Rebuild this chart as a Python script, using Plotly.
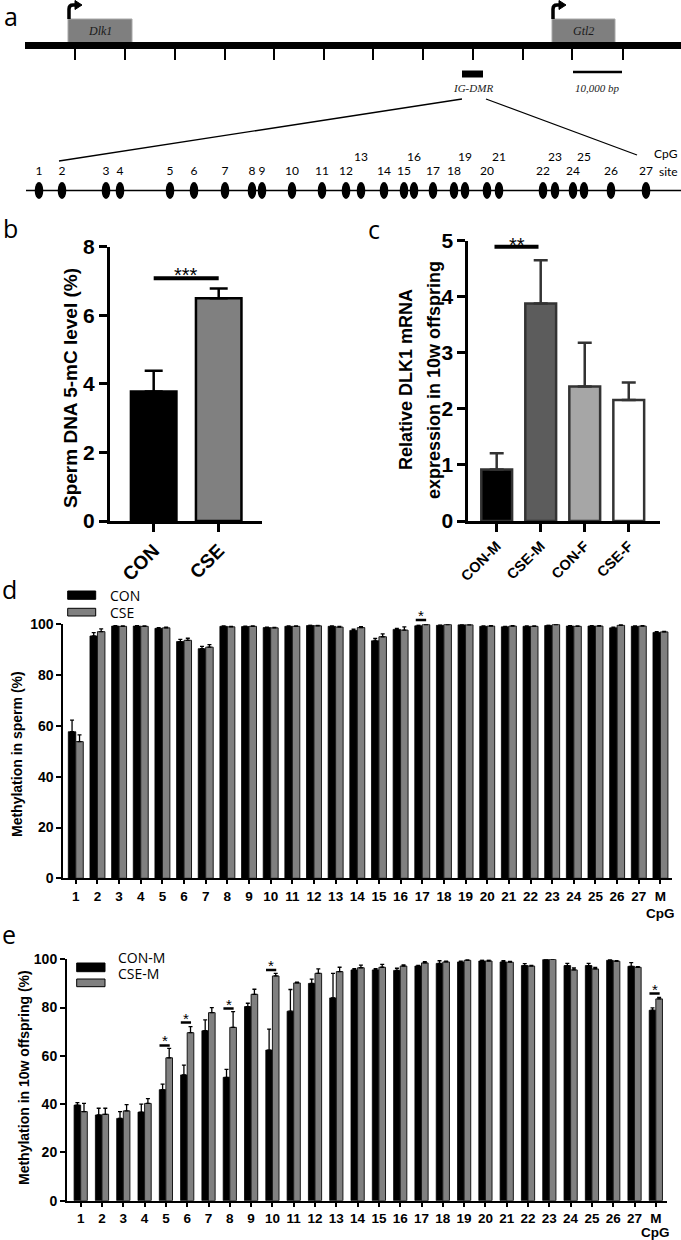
import plotly.graph_objects as go

W, H = 681, 1240


def fx(p):
    return p / W


def fy(p):
    return 1 - p / H


# ---------------- DATA ----------------
# panel a: map of the Dlk1-Gtl2 locus (diagram units = drawing positions along the map)
gene_names = ["Dlk1", "Gtl2"]
gene_start = [68, 552]
gene_end = [132, 615]
ruler_ticks = [75, 125, 175, 225, 274, 324, 373, 423, 473, 523, 572, 623]
igdmr_span = [462, 483]
scalebar_span = [573, 622]
cpg_sites = [str(i) for i in range(1, 28)]
cpg_pos = [39, 62, 106, 120, 170, 194, 225, 252, 262, 292, 322, 346, 361, 384,
           404, 414, 433, 454, 465, 487, 499, 543, 555, 573, 584, 611, 646]
cpg_raised = ["13", "16", "19", "21", "23", "25"]

# panel b
b_groups = ["CON", "CSE"]
b_mean = [3.78, 6.50]
b_sem = [0.60, 0.28]
b_sig_y = 7.08

# panel c
c_groups = ["CON-M", "CSE-M", "CON-F", "CSE-F"]
c_mean = [0.92, 3.88, 2.40, 2.16]
c_sem = [0.29, 0.77, 0.78, 0.31]
c_sig_y = 4.89

# panels d / e
cpg_cats = [str(i) for i in range(1, 28)] + ["M"]
d_con = [57.7, 95.4, 99.3, 99.3, 98.4, 93.2, 90.4, 99.2, 99.1, 98.7, 99.2, 99.5, 99.2, 97.6,
         93.5, 98.0, 99.4, 99.6, 99.8, 99.2, 99.0, 99.2, 99.5, 99.3, 99.3, 98.6, 99.2, 96.8]
d_con_sem = [4.6, 1.3, 0.2, 0.2, 0.3, 0.9, 0.9, 0.2, 0.2, 0.2, 0.2, 0.2, 0.2, 0.5,
             0.9, 0.4, 0.3, 0.2, 0.1, 0.2, 0.2, 0.2, 0.2, 0.2, 0.2, 0.3, 0.2, 0.3]
d_cse = [53.8, 97.1, 99.2, 99.2, 98.6, 93.7, 91.0, 99.0, 99.2, 98.6, 99.2, 99.4, 98.9, 98.7,
         95.1, 97.7, 99.9, 99.9, 99.8, 99.3, 99.3, 99.2, 99.9, 99.2, 99.3, 99.6, 99.3, 97.0]
d_cse_sem = [2.7, 1.1, 0.2, 0.2, 0.3, 0.8, 1.0, 0.2, 0.2, 0.2, 0.2, 0.2, 0.3, 0.4,
             1.1, 1.3, 0.2, 0.2, 0.1, 0.2, 0.2, 0.2, 0.1, 0.2, 0.2, 0.3, 0.2, 0.2]
d_sig_cats = ["17"]
d_sig_y = [101.7]

e_con = [39.6, 35.5, 34.1, 36.7, 46.0, 52.1, 70.4, 51.1, 80.4, 62.4, 78.5, 90.0, 84.0, 95.6,
         95.6, 95.4, 97.2, 98.3, 98.9, 99.3, 98.9, 97.4, 99.9, 97.4, 97.4, 99.6, 97.1, 78.9]
e_con_sem = [1.0, 2.8, 2.8, 3.3, 2.3, 4.1, 4.5, 3.3, 1.4, 8.7, 9.0, 1.8, 10.2, 0.5,
             0.5, 0.9, 0.3, 1.1, 0.3, 0.3, 0.5, 0.8, 0.3, 0.9, 0.9, 0.3, 1.5, 1.0]
e_cse = [36.9, 35.8, 37.2, 40.3, 59.2, 69.6, 77.9, 71.8, 85.5, 93.1, 90.2, 94.2, 94.9, 96.5,
         96.7, 97.2, 98.5, 98.9, 99.6, 99.3, 98.8, 97.2, 100.0, 95.6, 96.0, 99.2, 96.7, 83.6]
e_cse_sem = [3.4, 2.5, 2.6, 2.0, 3.9, 2.5, 2.1, 6.5, 2.1, 1.1, 0.3, 1.8, 1.8, 1.1,
             1.2, 0.5, 0.5, 0.3, 0.3, 0.3, 0.3, 0.3, 0.2, 0.8, 0.6, 0.2, 0.3, 0.6]
e_sig_cats = ["5", "6", "8", "10", "M"]
e_sig_y = [64.3, 73.8, 79.6, 95.6, 85.8]

# ---------------- STYLE ----------------
BOLD = dict(family="Liberation Sans", color="black", weight="bold")
b_colors = ["#000000", "#808080"]
c_colors = ["#000000", "#5c5c5c", "#a6a6a6", "#ffffff"]
GRAY = "#808080"

fig = go.Figure()
shapes = []
ann = []

# ---------------- PANEL A (overlay axis x/y) ----------------
lab_y = [158 if s in cpg_raised else 172 for s in cpg_sites]
fig.add_trace(go.Scatter(x=cpg_pos, y=lab_y, text=cpg_sites, mode="text",
                         textfont=dict(family="Lato", size=12, color="black"),
                         xaxis="x", yaxis="y", hoverinfo="skip", showlegend=False))

A = dict(xref="x", yref="y")
for g, s, e in zip(gene_names, gene_start, gene_end):
    shapes.append(dict(type="rect", x0=s, x1=e, y0=19, y1=43, fillcolor="#7f7f7f",
                       line=dict(color="#a8a8a8", width=1), **A))
    ann.append(dict(x=(s + e) / 2, y=31, text="<i>%s</i>" % g, showarrow=False,
                    font=dict(family="Liberation Serif", size=12, color="#1a1a1a"), **A))
    sx = s + 1
    shapes.append(dict(type="path", path=f"M {sx},19 L {sx},9 Q {sx},5 {sx+4},5 L {sx+7},5",
                       line=dict(color="black", width=3.5), **A))
    shapes.append(dict(type="path", path=f"M {sx+6},0.5 L {sx+13},5 L {sx+6},9.5 Z",
                       fillcolor="black", line=dict(color="black", width=1), **A))
shapes.append(dict(type="line", x0=25, x1=681, y0=45.5, y1=45.5,
                   line=dict(color="black", width=7), **A))
for t in ruler_ticks:
    shapes.append(dict(type="line", x0=t, x1=t, y0=49, y1=60,
                       line=dict(color="black", width=2), **A))
shapes.append(dict(type="rect", x0=igdmr_span[0], x1=igdmr_span[1], y0=70.5, y1=77.5,
                   fillcolor="black", line=dict(width=0), **A))
shapes.append(dict(type="line", x0=scalebar_span[0], x1=scalebar_span[1], y0=72, y1=72,
                   line=dict(color="black", width=2.5), **A))
ann.append(dict(x=sum(igdmr_span) / 2, y=88, text="<i>IG-DMR</i>", showarrow=False,
                font=dict(family="Liberation Serif", size=11, color="#1a1a1a"), **A))
ann.append(dict(x=sum(scalebar_span) / 2, y=88, text="<i>10,000 bp</i>", showarrow=False,
                font=dict(family="Liberation Serif", size=11, color="#1a1a1a"), **A))
shapes.append(dict(type="line", x0=igdmr_span[0], y0=99, x1=59, y1=161,
                   line=dict(color="black", width=1.3), **A))
shapes.append(dict(type="line", x0=igdmr_span[1] + 3, y0=99, x1=637, y1=155,
                   line=dict(color="black", width=1.3), **A))
shapes.append(dict(type="line", x0=26, x1=681, y0=190.5, y1=190.5,
                   line=dict(color="black", width=1.3), **A))
for p in cpg_pos:
    shapes.append(dict(type="circle", x0=p - 4.3, x1=p + 4.3, y0=182, y1=199,
                       fillcolor="black", line=dict(width=0), **A))
ann.append(dict(x=666, y=153, text="CpG", showarrow=False,
                font=dict(family="Lato", size=12, color="black"), **A))
ann.append(dict(x=668, y=171, text="site", showarrow=False,
                font=dict(family="Lato", size=12, color="black"), **A))

# ---------------- PANEL B ----------------
bx = list(range(len(b_groups)))
fig.add_trace(go.Bar(x=bx, y=b_mean, width=0.7,
                     marker=dict(color=b_colors, line=dict(color="black", width=2.5)),
                     error_y=dict(type="data", array=b_sem, arrayminus=[0] * len(bx),
                                  symmetric=False, color="black", thickness=2.5, width=9),
                     xaxis="x2", yaxis="y2", showlegend=False, hoverinfo="skip"))
fig.add_trace(go.Scatter(x=[bx[0], bx[1]], y=[b_sig_y, b_sig_y], mode="lines",
                         line=dict(color="black", width=4), xaxis="x2", yaxis="y2",
                         showlegend=False, hoverinfo="skip"))
ann.append(dict(x=(bx[0] + bx[1]) / 2, y=b_sig_y, xref="x2", yref="y2", text="***",
                showarrow=False, yanchor="bottom", yshift=-10,
                font=dict(family="Liberation Sans", size=20, color="black")))

# ---------------- PANEL C ----------------
cx = list(range(len(c_groups)))
fig.add_trace(go.Bar(x=cx, y=c_mean, width=0.7,
                     marker=dict(color=c_colors, line=dict(color="#333333", width=2.5)),
                     error_y=dict(type="data", array=c_sem, arrayminus=[0] * len(cx),
                                  symmetric=False, color="#333333", thickness=2.5, width=7),
                     xaxis="x3", yaxis="y3", showlegend=False, hoverinfo="skip"))
fig.add_trace(go.Scatter(x=[cx[0] - 0.05, cx[1] - 0.05], y=[c_sig_y, c_sig_y], mode="lines",
                         line=dict(color="black", width=4), xaxis="x3", yaxis="y3",
                         showlegend=False, hoverinfo="skip"))
ann.append(dict(x=(cx[0] + cx[1]) / 2 - 0.05, y=c_sig_y, xref="x3", yref="y3", text="**",
                showarrow=False, yanchor="bottom", yshift=-11,
                font=dict(family="Liberation Sans", size=20, color="black")))


# ---------------- PANELS D / E ----------------
def pair_bars(xa, ya, con, con_sem, cse, cse_sem, w):
    xs = list(range(len(cpg_cats)))
    z = [0] * len(xs)
    fig.add_trace(go.Bar(x=xs, y=con, width=w, offset=-w,
                         marker=dict(color="black", line=dict(color="black", width=0.8)),
                         error_y=dict(type="data", array=con_sem, arrayminus=z, symmetric=False,
                                      color="black", thickness=1.3, width=2),
                         xaxis=xa, yaxis=ya, showlegend=False, hoverinfo="skip"))
    fig.add_trace(go.Bar(x=xs, y=cse, width=w, offset=0,
                         marker=dict(color=GRAY, line=dict(color="#1a1a1a", width=1)),
                         error_y=dict(type="data", array=cse_sem, arrayminus=z, symmetric=False,
                                      color="black", thickness=1.3, width=2),
                         xaxis=xa, yaxis=ya, showlegend=False, hoverinfo="skip"))


def sig_marks(xa, ya, cats, ys):
    lx, ly = [], []
    for c, h in zip(cats, ys):
        i = cpg_cats.index(c)
        lx += [i - 0.3, i + 0.18, None]
        ly += [h, h, None]
        ann.append(dict(x=i - 0.06, y=h, xref=xa, yref=ya, text="*", showarrow=False,
                        yanchor="bottom", yshift=-6,
                        font=dict(family="Liberation Sans", size=15, color="black")))
    fig.add_trace(go.Scatter(x=lx, y=ly, mode="lines", line=dict(color="black", width=2.5),
                             xaxis=xa, yaxis=ya, showlegend=False, hoverinfo="skip"))


pair_bars("x4", "y4", d_con, d_con_sem, d_cse, d_cse_sem, 0.345)
sig_marks("x4", "y6", d_sig_cats, d_sig_y)
pair_bars("x5", "y5", e_con, e_con_sem, e_cse, e_cse_sem, 0.31)
sig_marks("x5", "y5", e_sig_cats, e_sig_y)


# legends (drawn)
def legend(x0, x1, rows, labels, lx):
    for (y0, y1), col, lab in zip(rows, ["black", GRAY], labels):
        shapes.append(dict(type="rect", xref="paper", yref="paper", x0=fx(x0), x1=fx(x1),
                           y0=fy(y1), y1=fy(y0), fillcolor=col,
                           line=dict(color="black", width=1)))
        ann.append(dict(x=fx(lx), y=fy((y0 + y1) / 2), xref="paper", yref="paper", text=lab,
                        showarrow=False, xanchor="left", height=15, valign="middle",
                        font=dict(family="Open Sans", size=14, color="black")))


legend(67.7, 95.7, [(591, 599.3), (608.3, 616)], ["CON", "CSE"], 108)
legend(76.7, 105, [(963, 971.7), (979, 986.7)], ["CON-M", "CSE-M"], 116)


# ---------------- titles / labels ----------------
def ptext(x, y, text, size, angle=0, font=None, xanchor="center"):
    f = dict(font or BOLD)
    f["size"] = size
    ann.append(dict(x=fx(x), y=fy(y), xref="paper", yref="paper", text=text, showarrow=False,
                    textangle=angle, font=f, xanchor=xanchor, yanchor="middle"))


PL = dict(family="Open Sans", color="black")
ptext(11, 16, "a", 25, font=PL)
ptext(10, 228, "b", 25, font=PL)
ptext(374, 229, "c", 25, font=PL)
ptext(9, 589, "d", 25, font=PL)
ptext(9, 934, "e", 25, font=PL)

ptext(70, 388, "Sperm DNA 5-mC level (%)", 19, angle=-90)
ptext(406, 380, "Relative DLK1 mRNA", 18, angle=-90)
ptext(434, 380, "expression in 10w offspring", 18, angle=-90)
ptext(17, 754, "Methylation in sperm (%)", 14, angle=-90)
ptext(24, 1078, "Methylation in 10w offspring (%)", 14, angle=-90)
ptext(660, 913, "CpG", 13.5)
ptext(655, 1232, "CpG", 13.5)


# ---------------- AXES ----------------
def ax(domain, rng, anchor, lw, tl, tw, fs, **kw):
    d = dict(domain=domain, range=rng, anchor=anchor, showgrid=False, zeroline=False,
             showline=True, linecolor="black", linewidth=lw, ticks="outside", ticklen=tl,
             tickwidth=tw, tickcolor="black", tickfont=dict(BOLD, size=fs), fixedrange=True,
             automargin=False)
    d.update(kw)
    return d


d_y0, d_y100 = 878.3, 624.3
d_top = 598
layout_axes = dict(
    xaxis=dict(domain=[0, 1], range=[0, W], visible=False, fixedrange=True, automargin=False),
    yaxis=dict(domain=[0, 1], range=[H, 0], visible=False, fixedrange=True, automargin=False),
    xaxis2=ax([fx(110), fx(262)], [-0.672, 1.666], "y2", 3, 8, 3, 19,
              tickvals=bx, ticktext=b_groups, tickangle=-45),
    yaxis2=ax([fy(521), fy(246.7)], [0, 8], "x2", 3, 8, 3, 21, tickvals=[0, 2, 4, 6, 8]),
    xaxis3=ax([fx(468.3), fx(660)], [-0.645, 3.71], "y3", 3, 8, 3, 14.5,
              tickvals=cx, ticktext=c_groups, tickangle=-45),
    yaxis3=ax([fy(521), fy(240.7)], [0, 5], "x3", 3, 8, 3, 21, tickvals=[0, 1, 2, 3, 4, 5]),
    xaxis4=ax([fx(63.3), fx(671.7)], [-0.577, 27.52], "y4", 2, 4, 2, 13.5,
              tickvals=list(range(len(cpg_cats))), ticktext=cpg_cats, tickangle=0),
    yaxis4=ax([fy(d_y0), fy(d_y100)], [0, 100], "x4", 2, 5, 2, 14,
              tickvals=[0, 20, 40, 60, 80, 100]),
    yaxis6=dict(domain=[fy(d_y0), fy(d_top)], range=[0, 100 * (d_y0 - d_top) / (d_y0 - d_y100)],
                anchor="x4", visible=False, fixedrange=True, automargin=False),
    xaxis5=ax([fx(67), fx(666.7)], [-0.643, 27.51], "y5", 2, 4, 2, 13.5,
              tickvals=list(range(len(cpg_cats))), ticktext=cpg_cats, tickangle=0),
    yaxis5=ax([fy(1200.7), fy(959.3)], [0, 100], "x5", 2, 5, 2, 14,
              tickvals=[0, 20, 40, 60, 80, 100]),
)

fig.update_layout(template="none", width=W, height=H, autosize=False,
                  margin=dict(l=0, r=0, t=0, b=0, pad=0),
                  paper_bgcolor="white", plot_bgcolor="rgba(0,0,0,0)", barmode="overlay",
                  shapes=shapes, annotations=ann, showlegend=False, **layout_axes)

fig.write_html("out.html", config={"displayModeBar": False},
               post_script="document.body.style.margin='0';"
                           "document.body.style.padding='0';"
                           "document.documentElement.style.overflow='hidden';")
